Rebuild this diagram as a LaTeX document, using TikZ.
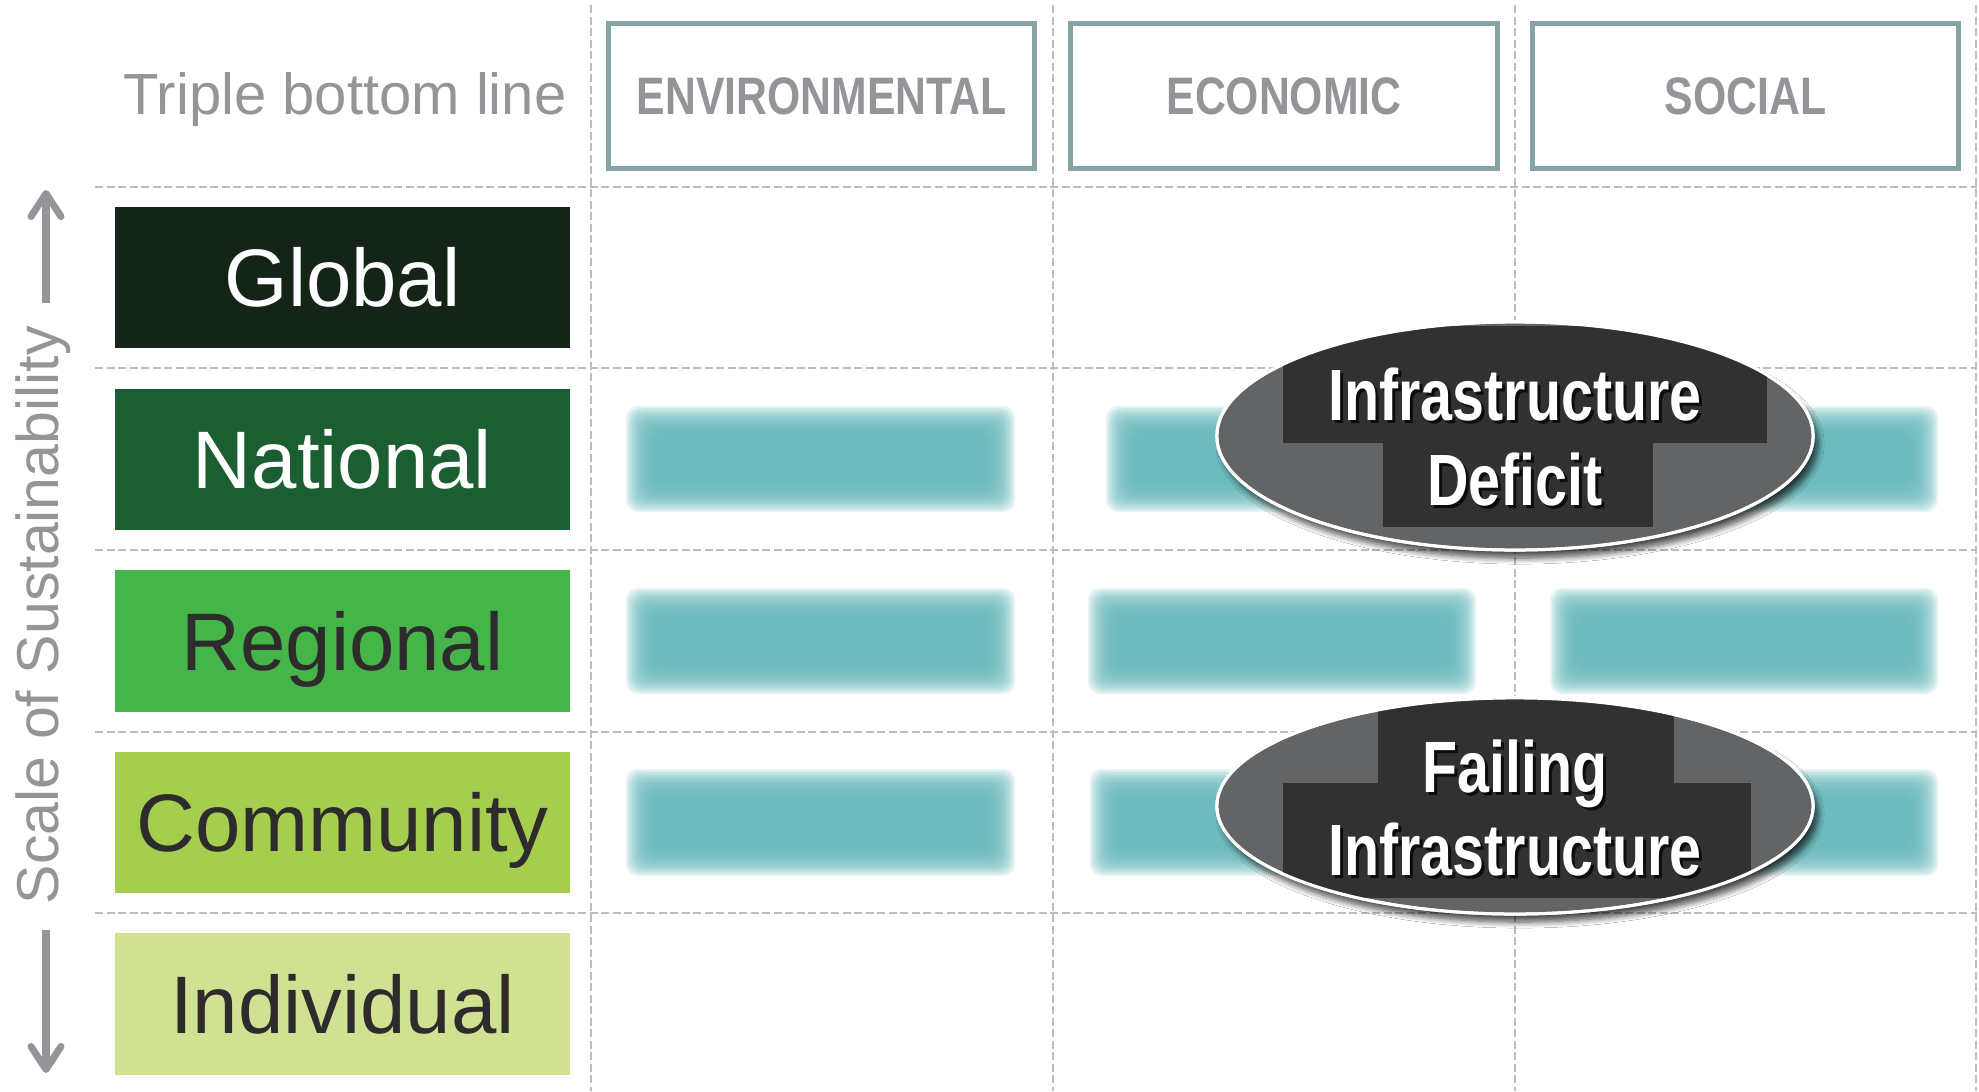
\documentclass[tikz,border=0pt]{standalone}
\usepackage{fontspec}
\setmainfont{Liberation Sans}
\newfontfamily\hdrfont{Liberation Sans}[FakeStretch=0.81]
\newfontfamily\ellfont{Liberation Sans}[FakeStretch=0.79]
\usetikzlibrary{shapes.geometric,arrows.meta,shadows.blur}
\definecolor{graytext}{HTML}{939598}
\definecolor{gridgray}{HTML}{BDBDBF}
\definecolor{hdrborder}{HTML}{87A3A4}
\definecolor{cglobal}{HTML}{142518}
\definecolor{cnational}{HTML}{1B5E31}
\definecolor{cregional}{HTML}{45B549}
\definecolor{ccommunity}{HTML}{A6CE4E}
\definecolor{cindividual}{HTML}{D0E292}
\definecolor{darktext}{HTML}{2D2B2C}
\definecolor{barteal}{HTML}{66B9BD}
\definecolor{ellgray}{HTML}{636466}
\definecolor{elldark}{HTML}{313131}
\newcommand\blurbar[4]{%
  \foreach \d in {-14,-12,...,14}{%
    \fill[barteal, fill opacity=0.17, rounded corners=1.2mm] ({#1-(\d)},{#2-(\d)}) rectangle ({#3+\d},{#4+\d});
  }}
\begin{document}
\begin{tikzpicture}[x=0.01cm,y=-0.01cm,
  griddash/.style={gridgray, line width=0.55pt, dash pattern=on 0.8mm off 0.35mm},
  hdr/.style={draw=hdrborder, line width=0.5mm, minimum width=4.26cm, minimum height=1.45cm,
    inner sep=0pt, text=graytext, font=\hdrfont\bfseries\fontsize{15}{18}\selectfont,
    text height=10.8pt, text depth=0pt},
  lvl/.style={minimum width=4.55cm, minimum height=1.41cm, inner sep=0pt,
    font=\fontsize{23.2}{28}\selectfont, text height=16.6pt, text depth=0pt},
  ellshape/.style={ellipse, fill=ellgray, draw=white, line width=0.3mm, inner sep=0pt,
    blur shadow={shadow xshift=0.5mm, shadow yshift=-0.8mm, shadow blur radius=0.6mm,
      shadow blur steps=8, shadow opacity=70}},
  elltext/.style={anchor=base, inner sep=0pt, text=white,
    font=\ellfont\bfseries\fontsize{20.66}{24}\selectfont},
  ellshadow/.style={elltext, text=black, opacity=0.75},
  scalearrow/.style={graytext, line width=2pt, -{Straight Barb[length=2.3mm, width=3mm, round]}}
]
\fill[white] (0,0) rectangle (1979,1091);
\useasboundingbox (0,0) rectangle (1979,1091);

% grid
\foreach \yy in {187,368,550,732,913} \draw[griddash] (95,\yy) -- (1977,\yy);
\foreach \xx in {591,1053,1515,1976} \draw[griddash] (\xx,5) -- (\xx,1091);

% headers
\node[text=graytext, font=\fontsize{16.5}{20}\selectfont, text height=11.8pt, text depth=0pt, inner sep=0pt]
  (tbl) at (345,93.5) {Triple bottom line};
\node[hdr] (env) at (821.5,96) {ENVIRONMENTAL};
\node[hdr] (eco) at (1284,96) {ECONOMIC};
\node[hdr] (soc) at (1745.5,96) {SOCIAL};

% level boxes
\node[lvl, fill=cglobal, text=white] (global) at (342.5,277.5) {Global};
\node[lvl, fill=cnational, text=white] (national) at (342.5,459.5) {National};
\node[lvl, fill=cregional, text=darktext] (regional) at (342.5,641) {Regional};
\node[lvl, fill=ccommunity, text=darktext] (community) at (342.5,822.5) {Community};
\node[lvl, fill=cindividual, text=darktext] (individual) at (342.5,1004) {Individual};

% scale label and arrows
\node[rotate=90, anchor=base, text=graytext, font=\fontsize{16.8}{20}\selectfont, inner sep=0pt]
  (scale) at (58,615) {Scale of Sustainability};
\coordinate (upS) at (46,303);
\coordinate (upE) at (46,190);
\coordinate (dnS) at (46,930);
\coordinate (dnE) at (46,1073);
\draw[scalearrow] (upS) -- (upE);
\draw[scalearrow] (dnS) -- (dnE);

% blurred bars
\blurbar{640}{420}{1001}{498}
\blurbar{1120}{420}{1462}{498}
\blurbar{1564}{420}{1924}{498}
\blurbar{640}{602}{1001}{680}
\blurbar{1102}{602}{1462}{680}
\blurbar{1564}{602}{1924}{680}
\blurbar{640}{783}{1001}{862}
\blurbar{1104}{783}{1462}{862}
\blurbar{1564}{783}{1924}{862}

% ellipse 1: Infrastructure Deficit
\node[ellshape, minimum width=5.96cm, minimum height=2.28cm] (deficit) at (1515,436) {};
\begin{scope}
  \clip (1515,436) ellipse [x radius=2.98cm, y radius=1.14cm];
  \fill[elldark] (1283,326) rectangle (1767,443);
  \fill[elldark] (1383,443) rectangle (1653,527);
\end{scope}
\draw[white, line width=0.3mm] (1515,436) ellipse [x radius=2.98cm, y radius=1.14cm];
\node[ellshadow] (d1s) at (1518,423) {Infrastructure};
\node[elltext] (d1) at (1515,420) {Infrastructure};
\node[ellshadow] (d2s) at (1518,508) {Deficit};
\node[elltext] (d2) at (1515,505) {Deficit};

% ellipse 2: Failing Infrastructure
\node[ellshape, minimum width=5.96cm, minimum height=2.16cm] (failing) at (1515,806) {};
\begin{scope}
  \clip (1515,806) ellipse [x radius=2.98cm, y radius=1.08cm];
  \fill[elldark] (1378,690) rectangle (1674,784);
  \fill[elldark] (1283,783) rectangle (1751,898);
\end{scope}
\draw[white, line width=0.3mm] (1515,806) ellipse [x radius=2.98cm, y radius=1.08cm];
\node[ellshadow] (f1s) at (1518,795) {Failing};
\node[elltext] (f1) at (1515,792) {Failing};
\node[ellshadow] (f2s) at (1518,878) {Infrastructure};
\node[elltext] (f2) at (1515,875) {Infrastructure};
\end{tikzpicture}
\end{document}
